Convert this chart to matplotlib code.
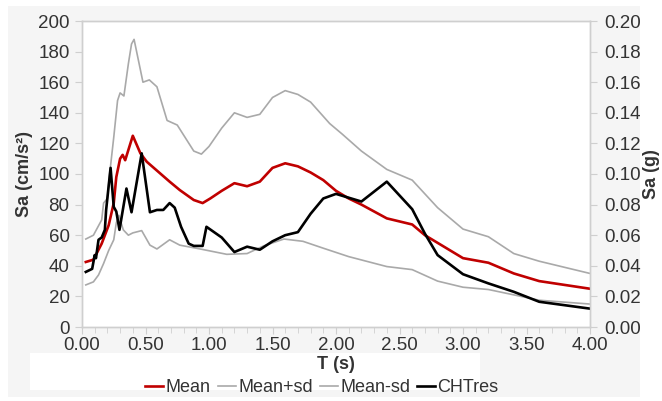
import matplotlib
matplotlib.use("Agg")
import matplotlib.pyplot as plt
from matplotlib.patches import Rectangle
from matplotlib.ticker import MultipleLocator, FormatStrFormatter

plt.rcParams['font.family'] = ['Liberation Sans', 'DejaVu Sans']

# ---- data ----
T_mean = [0.03, 0.09, 0.155, 0.21, 0.25, 0.27, 0.30, 0.32, 0.34, 0.40, 0.46, 0.51, 0.69, 0.77,
          0.88, 0.95, 1.01, 1.10, 1.20, 1.30, 1.40, 1.50, 1.60, 1.70, 1.80, 1.90, 2.00, 2.10,
          2.20, 2.40, 2.60, 2.70, 2.80, 3.00, 3.20, 3.40, 3.60, 4.00]
Sa_mean = [42.5, 44, 54.5, 66.5, 81, 98, 110, 112.5, 109, 125, 113.5, 108, 95, 89.5,
           83, 81, 84, 89, 94, 92, 95, 104, 107, 105, 101, 96, 89, 84,
           80, 71, 67, 60, 55, 45, 42, 35, 30, 25]

T_up = [0.03, 0.09, 0.155, 0.17, 0.20, 0.215, 0.25, 0.28, 0.30, 0.33, 0.365, 0.39, 0.41, 0.46,
        0.48, 0.53, 0.59, 0.67, 0.75, 0.88, 0.94, 1.00, 1.10, 1.20, 1.30, 1.40, 1.50, 1.60,
        1.70, 1.80, 1.95, 2.05, 2.20, 2.40, 2.60, 2.80, 3.00, 3.20, 3.40, 3.60, 4.00]
Sa_up = [57.5, 60, 70, 81, 84, 98, 124, 148, 153, 151, 172, 185, 188, 168,
         160, 161.5, 157, 135, 132, 115, 113, 118, 130, 140, 137, 139, 150, 154.5,
         152, 147, 133, 126, 115, 103, 96, 78, 64, 59, 48, 43, 35]

T_lo = [0.03, 0.09, 0.13, 0.17, 0.21, 0.25, 0.27, 0.29, 0.325, 0.365, 0.40, 0.47, 0.535, 0.59,
        0.69, 0.77, 0.93, 1.14, 1.30, 1.43, 1.59, 1.74, 1.90, 2.10, 2.40, 2.60, 2.80, 3.00,
        3.20, 3.40, 3.60, 4.00]
Sa_lo = [27.5, 29.5, 34, 41.5, 50, 57, 68, 73, 63.5, 60, 61.5, 63, 53.5, 51,
         57, 53.5, 51, 47.5, 48, 53, 57.5, 56, 51.5, 46, 39.5, 37.5, 30, 26,
         24.5, 21, 17.5, 15]

T_ch = [0.03, 0.08, 0.10, 0.11, 0.13, 0.155, 0.18, 0.19, 0.225, 0.25, 0.27, 0.295, 0.35, 0.39,
        0.47, 0.535, 0.59, 0.64, 0.69, 0.73, 0.78, 0.84, 0.88, 0.95, 0.98, 1.10, 1.20, 1.30,
        1.40, 1.50, 1.60, 1.70, 1.80, 1.90, 2.00, 2.20, 2.40, 2.60, 2.70, 2.80, 3.00, 3.20,
        3.40, 3.60, 4.00]
Sa_ch = [36, 38, 47, 45, 57, 58.5, 63.5, 76.5, 104, 78.5, 75.5, 63.5, 90.5, 75,
         113.5, 75, 76.5, 76.5, 81, 78, 65.5, 54.5, 53, 53, 65.5, 58.5, 49, 52.5,
         50.5, 56, 60, 62, 74, 84, 87, 82, 95, 77, 61, 47, 34.5, 28.5,
         23, 16.5, 12]

labels = ["Mean", "Mean+sd", "Mean-sd", "CHTres"]
x_ticks = [0.0, 0.5, 1.0, 1.5, 2.0, 2.5, 3.0, 3.5, 4.0]

# ---- figure ----
W, H = 662, 401
fig = plt.figure(figsize=(W / 100, H / 100), dpi=100, facecolor='white')
fig.patches.append(Rectangle((8 / W, 1 - 397 / H), (640 - 8) / W, (397 - 6) / H,
                             transform=fig.transFigure, facecolor='#f5f5f5',
                             edgecolor='none', zorder=-10))
fig.patches.append(Rectangle((30 / W, 1 - 390 / H), (480 - 30) / W, (390 - 353) / H,
                             transform=fig.transFigure, facecolor='white',
                             edgecolor='none', zorder=-9))

ax = fig.add_axes([82 / W, 1 - 327 / H, (590 - 82) / W, (327 - 21) / H])
ax.set_facecolor('white')

red = '#c00000'
gray = '#a9a9a9'
l1, = ax.plot(T_mean, Sa_mean, color=red, lw=1.9, label=labels[0], zorder=4)
l2, = ax.plot(T_up, Sa_up, color=gray, lw=1.2, label=labels[1], zorder=2)
l3, = ax.plot(T_lo, Sa_lo, color=gray, lw=1.2, label=labels[2], zorder=2)
l4, = ax.plot(T_ch, Sa_ch, color='black', lw=1.9, label=labels[3], zorder=5)

ax.set_xlim(0, 4)
ax.set_ylim(0, 200)
ax.set_xticks(x_ticks)
ax.xaxis.set_minor_locator(MultipleLocator(0.1))
ax.xaxis.set_major_formatter(FormatStrFormatter('%.2f'))
ax.yaxis.set_major_locator(MultipleLocator(20))

spine_c = '#cfcfcf'
for s in ax.spines.values():
    s.set_color(spine_c)
    s.set_linewidth(1.0)

txt_c = '#333333'
fs = 13.5
ax.tick_params(axis='both', which='both', direction='out', color=spine_c,
               labelcolor=txt_c, labelsize=fs)
ax.tick_params(axis='x', which='major', length=5, pad=2)
ax.tick_params(axis='x', which='minor', length=4)
ax.tick_params(axis='y', which='major', length=5, pad=4)

ax2 = ax.twinx()
ax2.set_ylim(0, 0.20)
ax2.yaxis.set_major_locator(MultipleLocator(0.02))
ax2.yaxis.set_major_formatter(FormatStrFormatter('%.2f'))
for s in ax2.spines.values():
    s.set_color(spine_c)
    s.set_linewidth(1.0)
ax2.tick_params(axis='y', direction='out', color=spine_c, labelcolor=txt_c,
                labelsize=fs, length=5, pad=5)

ax.set_ylabel("Sa (cm/s²)", fontsize=13, fontweight='bold', color=txt_c)
ax.yaxis.set_label_coords((33 - 82) / 508, 0.5)
ax2.set_ylabel("Sa (g)", fontsize=13, fontweight='bold', color=txt_c)
ax2.yaxis.set_label_coords((643 - 82) / 508, 0.5)
ax.set_xlabel("T (s)", fontsize=13, fontweight='bold', color=txt_c)
ax.xaxis.set_label_coords((336 - 82) / 508, (327 - 356) / 306)

fig.legend(handles=[l1, l2, l3, l4], labels=labels, loc='center',
           bbox_to_anchor=(322 / W, 1 - 388 / H), ncol=4, frameon=False,
           fontsize=13, handlelength=1.0, handletextpad=0.12,
           columnspacing=0.4, borderpad=0.1, labelcolor=txt_c)

fig.savefig("out.png", dpi=100, facecolor=fig.get_facecolor())
